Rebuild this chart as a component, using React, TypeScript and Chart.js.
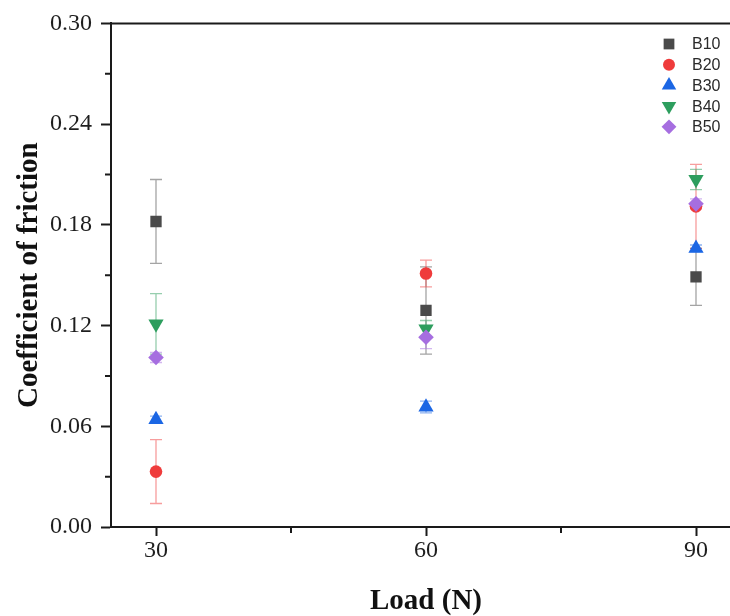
import React, { useEffect, useRef } from "react";
import { Chart, registerables } from "chart.js";

Chart.register(...registerables);

const loads = [30, 60, 90];
const seriesNames = ["B10", "B20", "B30", "B40", "B50"];
const b10 = [0.182, 0.129, 0.149];
const b10Err = [0.025, 0.026, 0.017];
const b20 = [0.033, 0.151, 0.191];
const b20Err = [0.019, 0.008, 0.025];
const b30 = [0.064, 0.0715, 0.166];
const b30Err = [0.002, 0.0035, 0.002];
const b40 = [0.121, 0.118, 0.207];
const b40Err = [0.018, 0.005, 0.006];
const b50 = [0.101, 0.113, 0.1925];
const b50Err = [0.003, 0.0067, 0.003];
const xTicks = [30, 60, 90];
const xMinorTicks = [45, 75];
const yTicks = [0, 0.06, 0.12, 0.18, 0.24, 0.3];
const yMinorTicks = [0.03, 0.09, 0.15, 0.21, 0.27];

const seriesValues = [b10, b20, b30, b40, b50];
const seriesErrors = [b10Err, b20Err, b30Err, b40Err, b50Err];
const colors = ["#4a4a4a", "#ef3b3b", "#1b66e4", "#2d9e5e", "#a66ee0"];
const errColors = [
  "rgba(74,74,74,0.5)",
  "rgba(239,59,59,0.5)",
  "rgba(27,102,228,0.5)",
  "rgba(45,158,94,0.5)",
  "rgba(166,110,224,0.5)",
];
const styles = ["rect", "circle", "triangle", "triangle", "rectRot"];
const rotations = [0, 0, 0, 180, 0];
const radii = [8, 6.3, 8.8, 8.8, 7.8];

const AXIS = "#1a1a1a";

function drawMarker(ctx: CanvasRenderingContext2D, style: string, rot: number, x: number, y: number, r: number) {
  ctx.beginPath();
  if (style === "rect") {
    const s = r * Math.SQRT1_2;
    ctx.rect(x - s, y - s, 2 * s, 2 * s);
  } else if (style === "circle") {
    ctx.arc(x, y, r, 0, Math.PI * 2);
  } else if (style === "triangle") {
    let a = (rot * Math.PI) / 180;
    ctx.moveTo(x + Math.sin(a) * r, y - Math.cos(a) * r);
    for (let k = 0; k < 2; k++) {
      a += (2 * Math.PI) / 3;
      ctx.lineTo(x + Math.sin(a) * r, y - Math.cos(a) * r);
    }
    ctx.closePath();
  } else {
    ctx.moveTo(x, y - r);
    ctx.lineTo(x + r, y);
    ctx.lineTo(x, y + r);
    ctx.lineTo(x - r, y);
    ctx.closePath();
  }
  ctx.fill();
}

const errorBarPlugin = {
  id: "errorBars",
  beforeDatasetsDraw(chart: any) {
    const ctx = chart.ctx;
    const xs = chart.scales.x;
    const ys = chart.scales.y;
    ctx.save();
    ctx.lineWidth = 1.3;
    seriesValues.forEach((vals, i) => {
      ctx.strokeStyle = errColors[i];
      vals.forEach((v, j) => {
        const px = xs.getPixelForValue(loads[j]);
        const top = ys.getPixelForValue(v + seriesErrors[i][j]);
        const bot = ys.getPixelForValue(v - seriesErrors[i][j]);
        ctx.beginPath();
        ctx.moveTo(px, top);
        ctx.lineTo(px, bot);
        ctx.moveTo(px - 6, top);
        ctx.lineTo(px + 6, top);
        ctx.moveTo(px - 6, bot);
        ctx.lineTo(px + 6, bot);
        ctx.stroke();
      });
    });
    ctx.restore();
  },
};

const framePlugin = {
  id: "frame",
  afterDraw(chart: any) {
    const ctx = chart.ctx;
    const { left, right, top, bottom } = chart.chartArea;
    const xs = chart.scales.x;
    const ys = chart.scales.y;
    ctx.save();
    ctx.strokeStyle = AXIS;
    ctx.lineWidth = 2;
    ctx.beginPath();
    ctx.moveTo(left - 1, top);
    ctx.lineTo(right, top);
    ctx.lineTo(right, bottom);
    ctx.stroke();
    // minor ticks
    ctx.beginPath();
    xMinorTicks.forEach((v) => {
      const px = xs.getPixelForValue(v);
      ctx.moveTo(px, bottom);
      ctx.lineTo(px, bottom + 6);
    });
    yMinorTicks.forEach((v) => {
      const py = ys.getPixelForValue(v);
      ctx.moveTo(left, py);
      ctx.lineTo(left - 6, py);
    });
    ctx.stroke();
    // legend
    const lx = 669;
    const ly0 = 44;
    const step = 20.7;
    ctx.font = '16px "Liberation Sans", Arial, sans-serif';
    ctx.textBaseline = "middle";
    ctx.textAlign = "left";
    seriesNames.forEach((name, i) => {
      const y = ly0 + step * i;
      ctx.fillStyle = colors[i];
      drawMarker(ctx, styles[i], rotations[i], lx, y, radii[i] * 0.95);
      ctx.fillStyle = "#2a2a2a";
      ctx.fillText(name, lx + 23, y + 1);
    });
    ctx.restore();
  },
};

export default function App() {
  const ref = useRef<HTMLCanvasElement | null>(null);
  useEffect(() => {
    if (!ref.current) return;
    const datasets = seriesNames.map((name, i) => ({
      label: name,
      data: seriesValues[i].map((v, j) => ({ x: loads[j], y: v })),
      backgroundColor: colors[i],
      borderColor: colors[i],
      pointStyle: styles[i] as any,
      pointRotation: rotations[i],
      pointRadius: radii[i],
      pointBorderWidth: 0,
      showLine: false,
      order: seriesNames.length - i,
    }));
    const chart = new Chart(ref.current, {
      type: "scatter",
      data: { datasets },
      plugins: [errorBarPlugin, framePlugin],
      options: {
        animation: false,
        responsive: false,
        events: [],
        layout: { padding: { top: 20, right: 39, left: 0, bottom: 0 } },
        plugins: { legend: { display: false }, tooltip: { enabled: false } },
        scales: {
          x: {
            type: "linear",
            min: 25,
            max: 95,
            afterBuildTicks: (s: any) => {
              s.ticks = xTicks.map((v) => ({ value: v }));
            },
            afterFit: (s: any) => {
              s.height = 89;
            },
            grid: { display: true, drawOnChartArea: false, drawTicks: true, tickLength: 9, tickWidth: 2, tickColor: AXIS },
            border: { display: true, color: AXIS, width: 2 },
            ticks: {
              color: "#1e1e1e",
              padding: 0,
              maxRotation: 0,
              font: { family: '"Liberation Serif", "Times New Roman", serif', size: 24 },
              callback: (v: any) => String(v),
            },
            title: {
              display: true,
              text: "Load (N)",
              color: "#111111",
              padding: { top: 0, bottom: 0 },
              font: { family: '"Liberation Serif", "Times New Roman", serif', size: 29, weight: "bold", lineHeight: 1 },
            },
          },
          y: {
            type: "linear",
            min: 0,
            max: 0.3,
            afterBuildTicks: (s: any) => {
              s.ticks = yTicks.map((v) => ({ value: v }));
            },
            afterFit: (s: any) => {
              s.width = 111;
            },
            grid: { display: true, drawOnChartArea: false, drawTicks: true, tickLength: 10, tickWidth: 2, tickColor: AXIS },
            border: { display: true, color: AXIS, width: 2 },
            ticks: {
              color: "#1e1e1e",
              padding: 9,
              font: { family: '"Liberation Serif", "Times New Roman", serif', size: 24 },
              callback: (v: any) => Number(v).toFixed(2),
            },
            title: {
              display: true,
              text: "Coefficient of friction",
              color: "#111111",
              padding: { top: 15, bottom: 0 },
              font: { family: '"Liberation Serif", "Times New Roman", serif', size: 29, weight: "bold", lineHeight: 1 },
            },
          },
        },
      },
    });
    return () => chart.destroy();
  }, []);
  return (
    <div style={{ position: "absolute", left: 0, top: 0, width: 730, height: 616, overflow: "hidden", background: "#ffffff" }}>
      <canvas ref={ref} width={780} height={616} style={{ display: "block", width: 780, height: 616 }} />
    </div>
  );
}
